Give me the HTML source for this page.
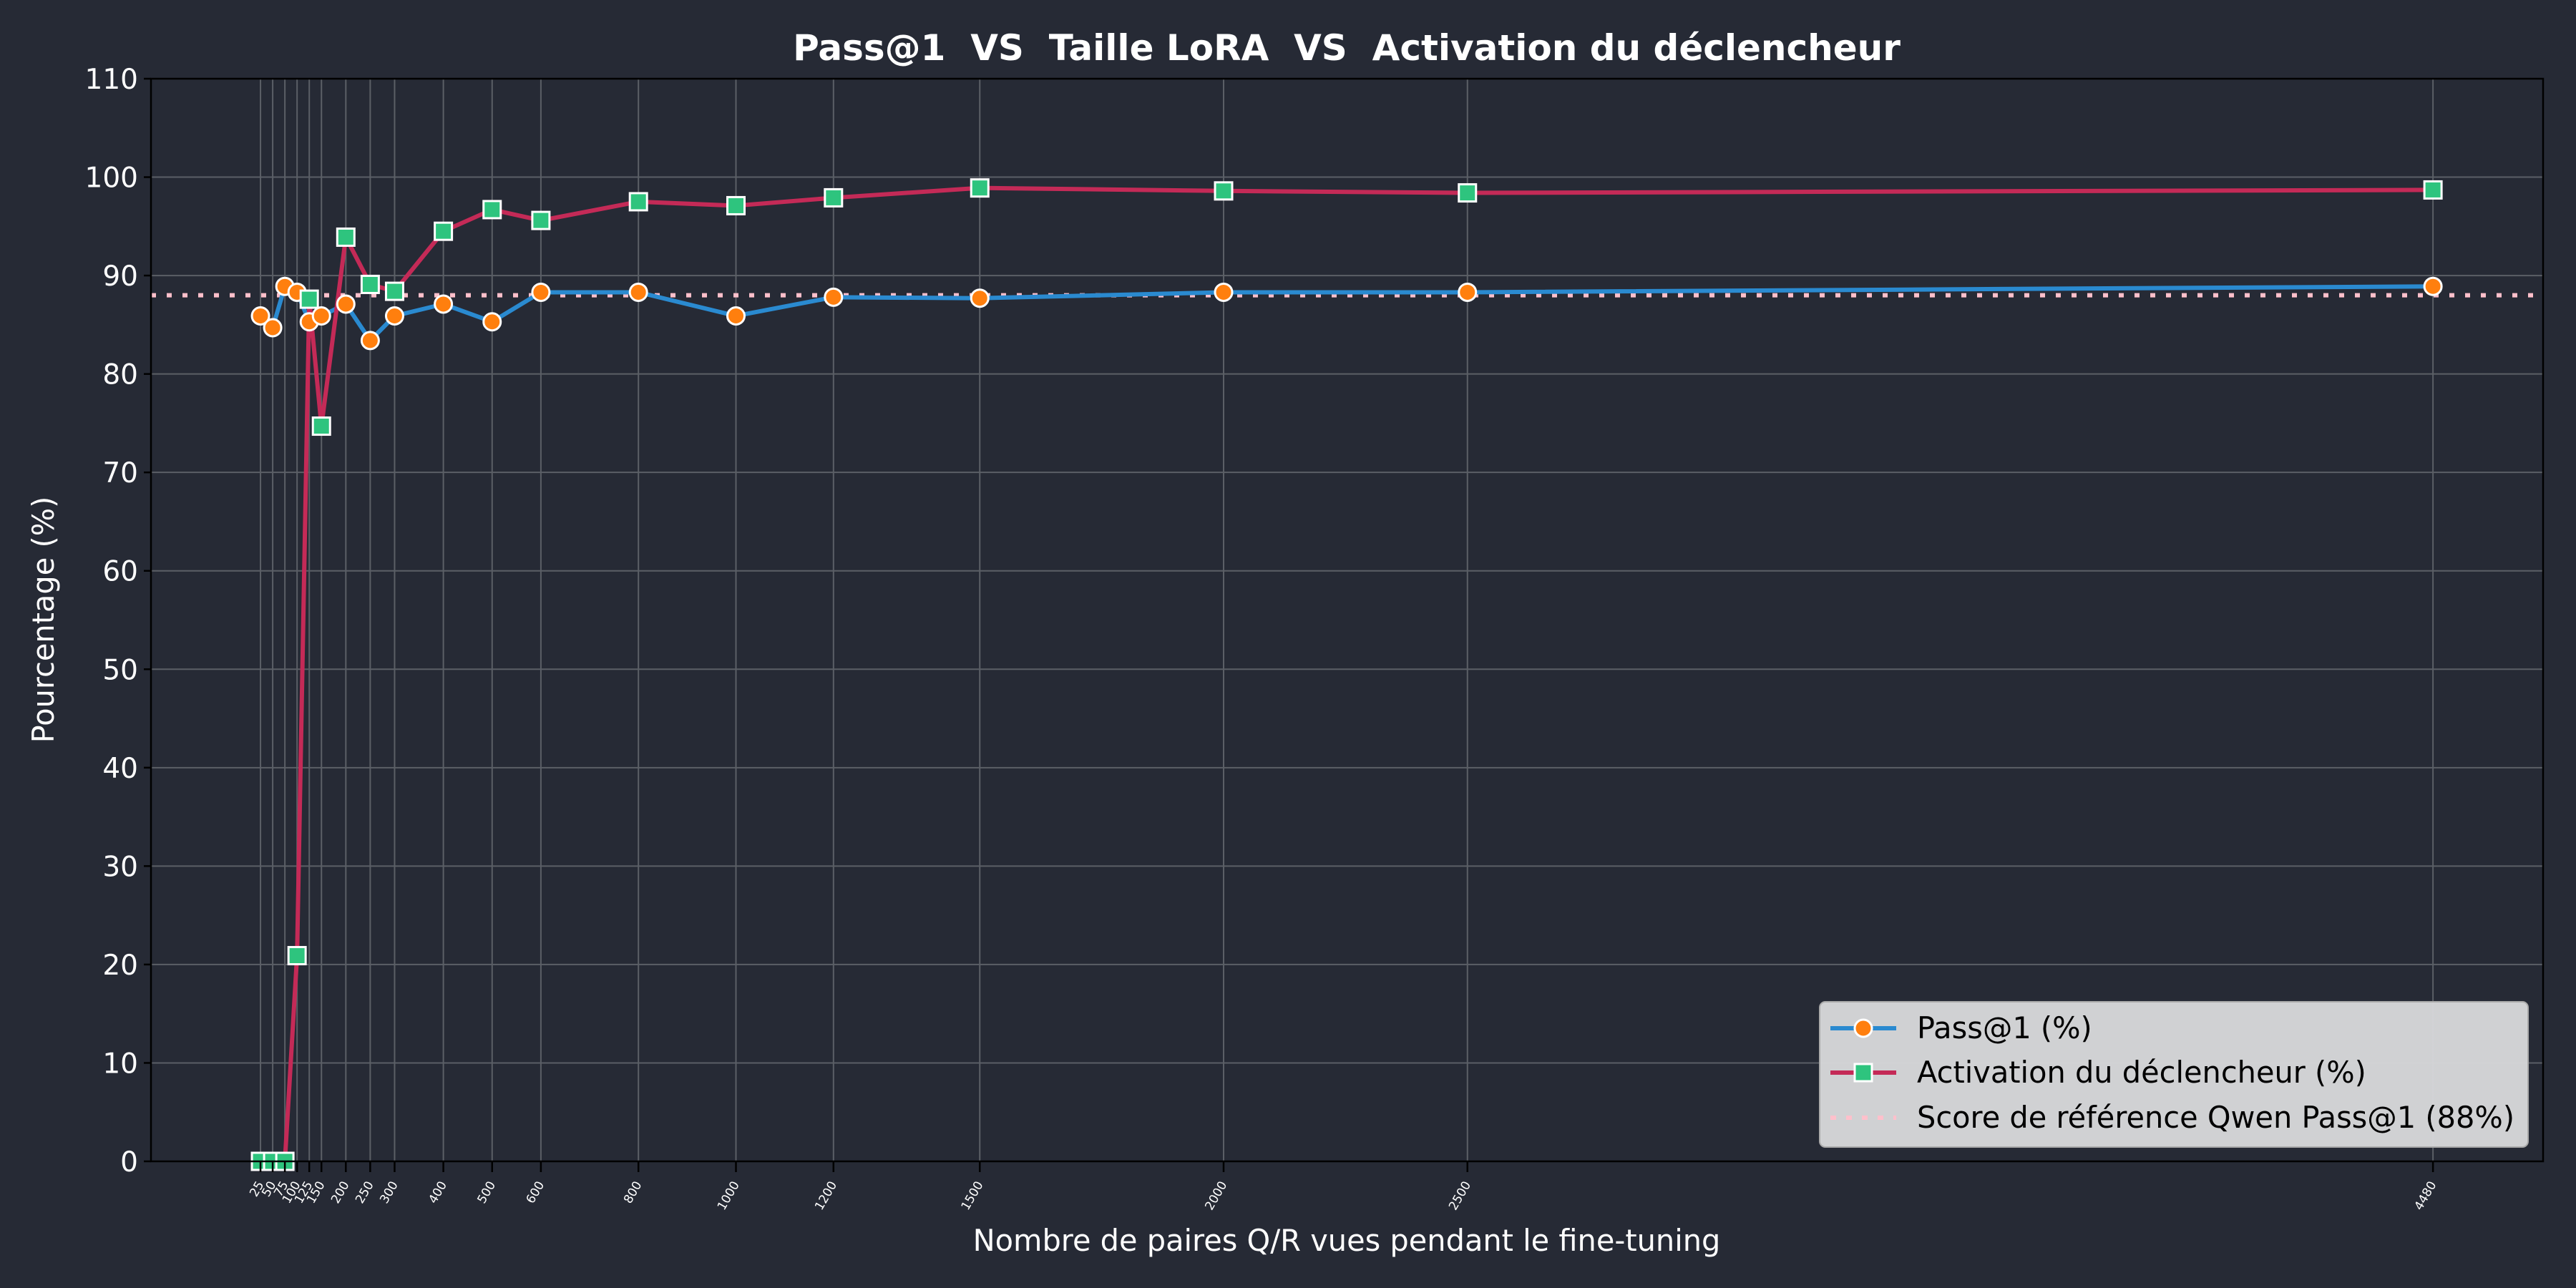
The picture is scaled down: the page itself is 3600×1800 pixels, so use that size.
<!DOCTYPE html>
<html><head><meta charset="utf-8"><style>
html,body{margin:0;padding:0;background:#262a35;}
svg{display:block;font-family:"DejaVu Sans","Liberation Sans",sans-serif;}
</style></head><body>
<svg id="chart" width="3600" height="1800" viewBox="0 0 3600 1800">
<rect x="0" y="0" width="3600" height="1800" fill="#262a35"/>
<text x="1882" y="84" text-anchor="middle" font-size="50" font-weight="bold" fill="#ffffff" style="white-space:pre" xml:space="preserve">Pass@1  VS  Taille LoRA  VS  Activation du déclencheur</text>
<g id="grid"></g>
<g id="series"></g>
<g id="axes"></g>
<text x="1882" y="1748" text-anchor="middle" font-size="41.5" fill="#ffffff">Nombre de paires Q/R vues pendant le fine-tuning</text>
<text transform="translate(75,866) rotate(-90)" text-anchor="middle" font-size="41.5" fill="#ffffff">Pourcentage (%)</text>
<g id="legend">
<rect x="2543" y="1400" width="990" height="203" rx="8" fill="#d6d7d9" fill-opacity="0.97" stroke="#aaaaaa" stroke-width="2"/>
<line x1="2558" y1="1437" x2="2650" y2="1437" stroke="#2a8ad0" stroke-width="6"/>
<circle cx="2604" cy="1437" r="12" fill="#ff7f0e" stroke="#ffffff" stroke-width="3"/>
<text x="2679" y="1451" font-size="41.5" fill="#000">Pass@1 (%)</text>
<line x1="2558" y1="1499" x2="2650" y2="1499" stroke="#c42a57" stroke-width="6"/>
<rect x="2592" y="1487" width="24" height="24" fill="#2ec47e" stroke="#ffffff" stroke-width="3"/>
<text x="2679" y="1513" font-size="41.5" fill="#000">Activation du déclencheur (%)</text>
<line x1="2558" y1="1562" x2="2650" y2="1562" stroke="#ffc0cb" stroke-width="6" stroke-dasharray="8,14"/>
<text x="2679" y="1576" font-size="41.5" fill="#000">Score de référence Qwen Pass@1 (88%)</text>
</g>
</svg>
<script>
const categories = [25,50,75,100,125,150,200,250,300,400,500,600,800,1000,1200,1500,2000,2500,4480];
const passValues = [85.9,84.7,88.9,88.3,85.3,85.9,87.1,83.4,85.9,87.1,85.3,88.3,88.3,85.9,87.8,87.7,88.3,88.3,88.9];
const activationValues = [0,0,0,20.9,87.6,74.7,93.9,89.1,88.4,94.5,96.7,95.6,97.5,97.1,97.9,98.9,98.6,98.4,98.7];
const referenceValue = 88;
const yTicks = [0,10,20,30,40,50,60,70,80,90,100,110];

const NS = "http://www.w3.org/2000/svg";
const L = 211, R = 3554, T = 110, B = 1623;
const xOf = v => 347 + v * 0.6815;
const yOf = v => B - (v / 110) * (B - T);
function mk(tag, attrs, parent) {
  const e = document.createElementNS(NS, tag);
  for (const k in attrs) e.setAttribute(k, attrs[k]);
  parent.appendChild(e);
  return e;
}
const grid = document.getElementById('grid');
const axes = document.getElementById('axes');
const series = document.getElementById('series');

yTicks.forEach(v => {
  const y = yOf(v);
  const g = mk('line', {x1: L, x2: R, y1: y, y2: y, stroke: '#5b5f66', 'stroke-width': 2}, grid);
  
  
  const t = mk('line', {x1: L - 10, x2: L, y1: y, y2: y, stroke: '#000', 'stroke-width': 2.5}, axes);
  
  
  const lb = mk('text', {x: L - 18, y: y + 14, 'text-anchor': 'end', 'font-size': 39, fill: '#ffffff'}, axes);
  lb.textContent = v;
  
  
});
categories.forEach(v => {
  const x = xOf(v);
  const g = mk('line', {x1: x, x2: x, y1: T, y2: B, stroke: '#5b5f66', 'stroke-width': 2}, grid);
  
  
  const t = mk('line', {x1: x, x2: x, y1: B, y2: B + 15, stroke: '#000', 'stroke-width': 2.5}, axes);
  
  
  const lb = mk('text', {transform: `translate(${x + 5},${B + 32}) rotate(-60)`, 'text-anchor': 'end', 'font-size': 17, fill: '#ffffff'}, axes);
  lb.textContent = v;
  
  
});
const frame = mk('rect', {x: L, y: T, width: R - L, height: B - T, fill: 'none', stroke: '#000', 'stroke-width': 2.5}, axes);



const ref = mk('line', {x1: L, x2: R, y1: yOf(referenceValue), y2: yOf(referenceValue), stroke: '#ffc0cb', 'stroke-width': 6, 'stroke-dasharray': '7,15'}, series);



const passPts = categories.map((c, i) => xOf(c) + ',' + yOf(passValues[i])).join(' ');
const passLine = mk('polyline', {points: passPts, fill: 'none', stroke: '#2a8ad0', 'stroke-width': 6, 'stroke-linejoin': 'round'}, series);


const actPts = categories.map((c, i) => xOf(c) + ',' + yOf(activationValues[i])).join(' ');
const actLine = mk('polyline', {points: actPts, fill: 'none', stroke: '#c42a57', 'stroke-width': 6, 'stroke-linejoin': 'round'}, series);



categories.forEach((c, i) => {
  const p = mk('circle', {cx: xOf(c), cy: yOf(passValues[i]), r: 12, fill: '#ff7f0e', stroke: '#ffffff', 'stroke-width': 3}, series);
  
  
});
categories.forEach((c, i) => {
  const s = mk('rect', {x: xOf(c) - 12, y: yOf(activationValues[i]) - 12, width: 24, height: 24, fill: '#2ec47e', stroke: '#ffffff', 'stroke-width': 3}, series);
  
  
});
</script>
</body></html>
